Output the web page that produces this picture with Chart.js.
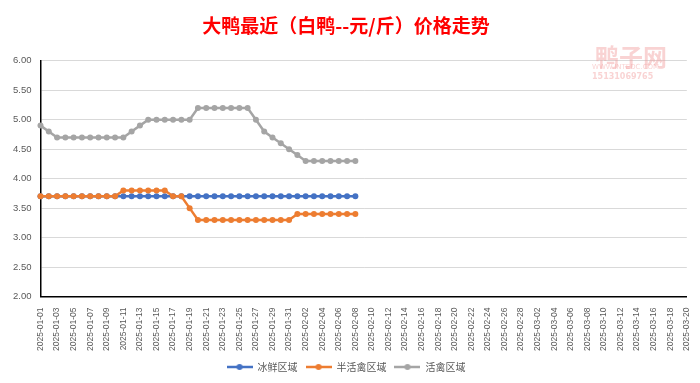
<!DOCTYPE html>
<html>
<head>
<meta charset="utf-8">
<script src="https://cdn.jsdelivr.net/npm/chart.js@4"></script>
<style>
  html, body { margin: 0; padding: 0; background: #fff; }
  #wrap { width: 700px; height: 383px; position: relative; }
</style>
</head>
<body>
<div id="wrap"><canvas id="priceChart"></canvas></div>
<script>
// dates 2025-01-01 .. 2025-03-20
const dates = [];
for (let m = 1; m <= 3; m++) {
  const days = m === 1 ? 31 : m === 2 ? 28 : 20;
  for (let d = 1; d <= days; d++) {
    dates.push('2025-' + String(m).padStart(2, '0') + '-' + String(d).padStart(2, '0'));
  }
}

const seriesNames = ['冰鲜区域', '半活禽区域', '活禽区域'];

const frozen = [3.7,3.7,3.7,3.7,3.7,3.7,3.7,3.7,3.7,3.7,3.7,3.7,3.7,3.7,3.7,3.7,3.7,3.7,3.7,3.7,
  3.7,3.7,3.7,3.7,3.7,3.7,3.7,3.7,3.7,3.7,3.7,3.7,3.7,3.7,3.7,3.7,3.7,3.7,3.7];
const semiLive = [3.7,3.7,3.7,3.7,3.7,3.7,3.7,3.7,3.7,3.7,3.8,3.8,3.8,3.8,3.8,3.8,3.7,3.7,3.5,3.3,
  3.3,3.3,3.3,3.3,3.3,3.3,3.3,3.3,3.3,3.3,3.3,3.4,3.4,3.4,3.4,3.4,3.4,3.4,3.4];
const live = [4.9,4.8,4.7,4.7,4.7,4.7,4.7,4.7,4.7,4.7,4.7,4.8,4.9,5.0,5.0,5.0,5.0,5.0,5.0,5.2,
  5.2,5.2,5.2,5.2,5.2,5.2,5.0,4.8,4.7,4.6,4.5,4.4,4.3,4.3,4.3,4.3,4.3,4.3,4.3];

const colors = ['#4472C4', '#ED7D31', '#A5A5A5'];

const yTicks = [2.0, 2.5, 3.0, 3.5, 4.0, 4.5, 5.0, 5.5, 6.0];

// legend marker: line with a dot in the middle
function legendMarker(color) {
  const c = document.createElement('canvas');
  c.width = 26; c.height = 8;
  const g = c.getContext('2d');
  g.strokeStyle = color;
  g.lineWidth = 2.5;
  g.beginPath(); g.moveTo(0, 4); g.lineTo(26, 4); g.stroke();
  g.fillStyle = color;
  g.beginPath(); g.arc(13, 4, 3, 0, Math.PI * 2); g.fill();
  return c;
}

// faint site watermark top right
const watermark = {
  id: 'watermark',
  afterDraw(chart) {
    const ctx = chart.ctx;
    ctx.save();
    ctx.fillStyle = 'rgba(240,150,150,0.42)';
    ctx.textAlign = 'left';
    ctx.font = 'bold 24px "Noto Sans CJK SC"';
    ctx.fillText('鸭子网', 595, 57);
    ctx.font = '7px "DejaVu Sans"';
    ctx.fillText('WWW.INTEDC.COM', 592, 67);
    ctx.font = 'bold 8px "DejaVu Sans"';
    ctx.fillText('15131069765', 592, 77);
    ctx.restore();
  }
};

const ctx = document.getElementById('priceChart').getContext('2d');
const myChart = new Chart(ctx, {
  type: 'line',
  data: {
    labels: dates,
    datasets: [frozen, semiLive, live].map((vals, i) => ({
      label: seriesNames[i],
      data: vals,
      order: 2 - i,
      borderColor: colors[i],
      backgroundColor: colors[i],
      borderWidth: 2.5,
      pointRadius: 3,
      pointBorderWidth: 0,
      pointStyle: 'circle',
      tension: 0,
    })),
  },
  options: {
    responsive: true,
    maintainAspectRatio: false,
    animation: false,
    layout: { padding: { left: 4, right: 12, top: 4, bottom: 1 } },
    plugins: {
      title: {
        display: true,
        text: '大鸭最近（白鸭--元/斤）价格走势',
        color: '#FF0000',
        font: { family: '"Noto Sans CJK SC"', size: 19, weight: 'bold' },
        padding: { top: 10, bottom: 24 },
      },
      legend: {
        position: 'bottom',
        labels: {
          usePointStyle: true,
          pointStyleWidth: 26,
          color: '#595959',
          font: { family: '"Noto Sans CJK SC"', size: 10 },
          padding: 8,
          generateLabels: (chart) => chart.data.datasets.map((ds, i) => ({
            text: ds.label,
            fontColor: '#595959',
            pointStyle: legendMarker(colors[i]),
            datasetIndex: i,
            lineWidth: 0,
          })),
        },
      },
      tooltip: { enabled: false },
    },
    scales: {
      x: {
        offset: false,
        grid: { display: false },
        border: { color: '#000', width: 1.5 },
        ticks: {
          autoSkip: false,
          maxRotation: 90,
          minRotation: 90,
          color: '#595959',
          font: { family: '"Liberation Sans"', size: 8.5 },
          callback: function (v, i) { return i % 2 === 0 ? dates[i] : ''; },
        },
      },
      y: {
        min: 2,
        max: 6,
        afterBuildTicks: (axis) => { axis.ticks = yTicks.map(v => ({ value: v })); },
        grid: { color: '#D9D9D9', drawTicks: false },
        border: { color: '#000', width: 1.5 },
        ticks: {
          color: '#595959',
          padding: 9,
          font: { family: '"Liberation Sans"', size: 9.5 },
          callback: (v) => Number(v).toFixed(2),
        },
      },
    },
  },
  plugins: [watermark],
});
</script>
</body>
</html>
